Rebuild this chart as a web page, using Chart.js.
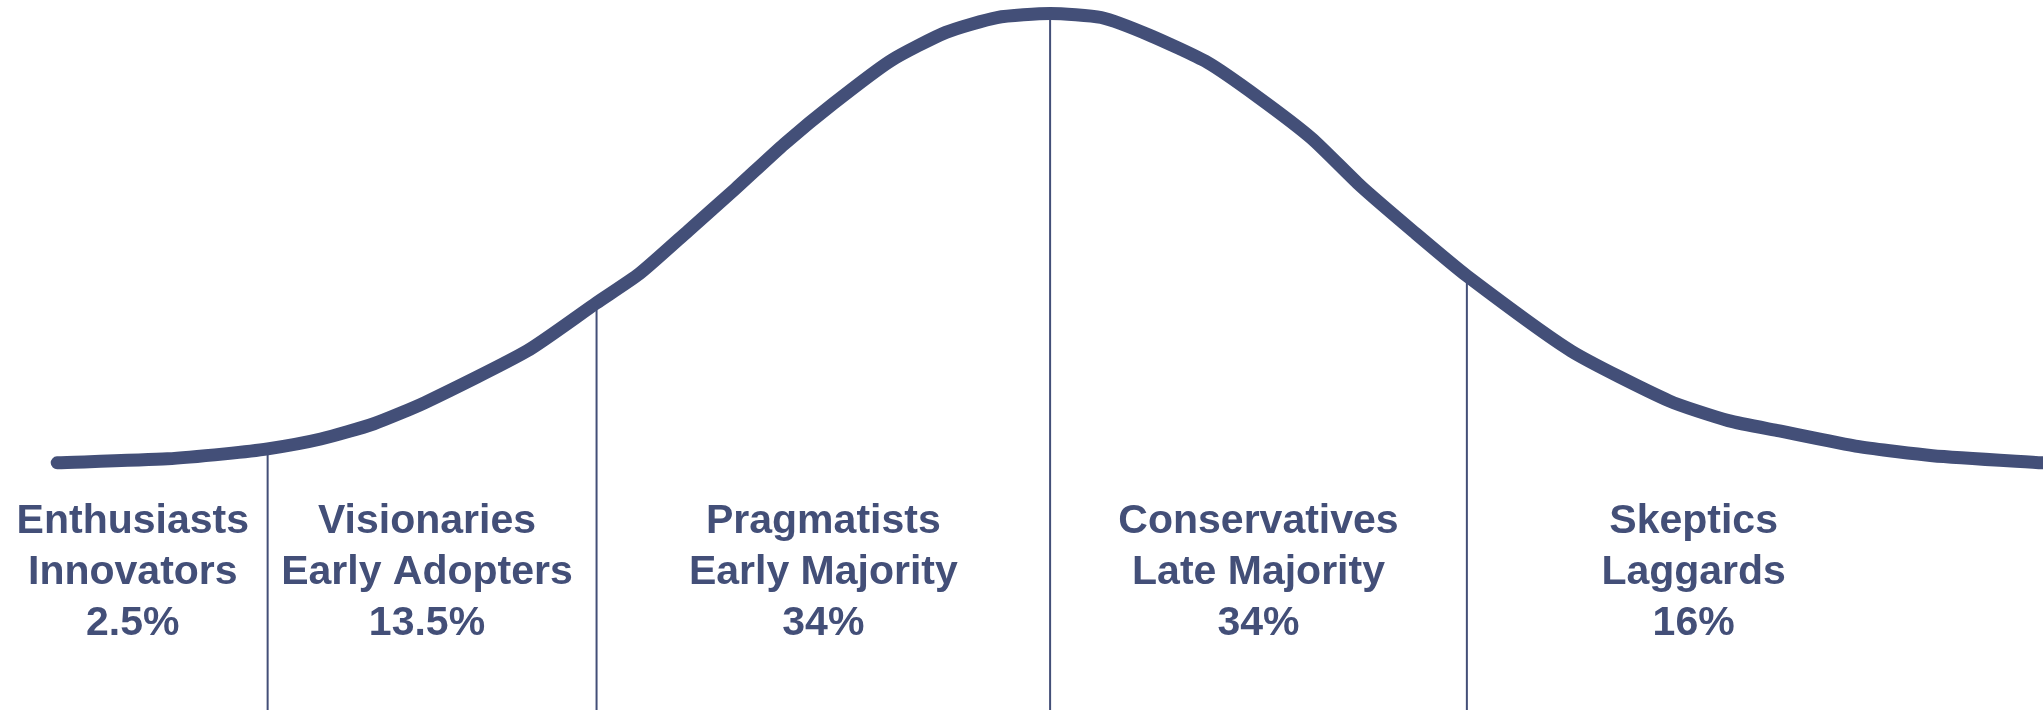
<!DOCTYPE html>
<html>
<head>
<meta charset="utf-8">
<title>Technology adoption lifecycle</title>
<script src="https://cdn.jsdelivr.net/npm/chart.js@4.4.1/dist/chart.umd.min.js"></script>
<style>
  html, body { margin: 0; padding: 0; background: #fff; }
  #wrap { width: 2043px; height: 710px; }
</style>
</head>
<body>
<div id="wrap"><canvas id="curve" width="2043" height="710"></canvas></div>
<script>
// Bell curve (x = % across, y = height, peak = 100)
const curveX = [2.8, 8.2, 11.0, 13.1, 15.7, 18.3, 20.8, 25.8, 29.2, 31.3, 33.7, 36.0, 38.4, 40.8, 43.6, 46.3, 48.8,
                51.4, 53.9, 56.3, 59.1, 61.6, 64.2, 66.6, 69.2, 71.8, 76.9, 81.7, 84.6, 87.1, 91.0, 94.6, 100];
const curveY = [0, 0.9, 2.0, 3.1, 5.3, 8.7, 13.4, 24.9, 35.6, 42.1, 51.7, 61.0, 71.0, 80.0, 89.5, 95.8, 99.1,
                100, 99.1, 95.1, 89.1, 81.3, 72.2, 61.6, 51.4, 41.6, 24.9, 13.8, 9.4, 7.1, 3.6, 1.6, 0];

// Segment boundaries (same x as points on the curve)
const dividerX = [13.1, 29.2, 51.4, 71.8];

// Segment labels
const segmentCenter = [6.5, 20.9, 40.3, 61.6, 82.9];
const segmentName = ['Enthusiasts', 'Visionaries', 'Pragmatists', 'Conservatives', 'Skeptics'];
const segmentRole = ['Innovators', 'Early Adopters', 'Early Majority', 'Late Majority', 'Laggards'];
const segmentShare = ['2.5%', '13.5%', '34%', '34%', '16%'];

const navy = '#434f78';
const yMin = -55;
const yMax = 103;

const curvePoints = curveX.map((x, i) => ({ x: x, y: curveY[i] }));

const dividerSets = dividerX.map(x => {
  const top = curveY[curveX.indexOf(x)];
  return {
    data: [{ x: x, y: yMin }, { x: x, y: top }],
    borderColor: navy,
    borderWidth: 2,
    pointRadius: 0,
    tension: 0,
    clip: false
  };
});

// Text under the curve, placed through the scales
const segmentLabels = {
  id: 'segmentLabels',
  afterDatasetsDraw(chart) {
    const ctx = chart.ctx;
    const xs = chart.scales.x;
    const ys = chart.scales.y;
    const firstLine = ys.getPixelForValue(-13.0);
    const lineGap = 51;
    ctx.save();
    ctx.fillStyle = navy;
    ctx.font = 'bold 41px "Liberation Sans", Arial, sans-serif';
    ctx.textAlign = 'center';
    ctx.textBaseline = 'middle';
    segmentCenter.forEach((c, i) => {
      const px = xs.getPixelForValue(c);
      [segmentName[i], segmentRole[i], segmentShare[i]].forEach((t, j) => {
        ctx.fillText(t, px, firstLine + j * lineGap);
      });
    });
    ctx.restore();
  }
};

new Chart(document.getElementById('curve'), {
  type: 'line',
  data: {
    datasets: [{
      data: curvePoints,
      borderColor: navy,
      borderWidth: 13,
      borderCapStyle: 'round',
      borderJoinStyle: 'round',
      pointRadius: 0,
      tension: 0.2,
      clip: false
    }].concat(dividerSets)
  },
  options: {
    responsive: false,
    animation: false,
    layout: { padding: 0 },
    scales: {
      x: { type: 'linear', min: 0, max: 100, display: false },
      y: { type: 'linear', min: yMin, max: yMax, display: false }
    },
    plugins: {
      legend: { display: false },
      tooltip: { enabled: false }
    }
  },
  plugins: [segmentLabels]
});
</script>
</body>
</html>
